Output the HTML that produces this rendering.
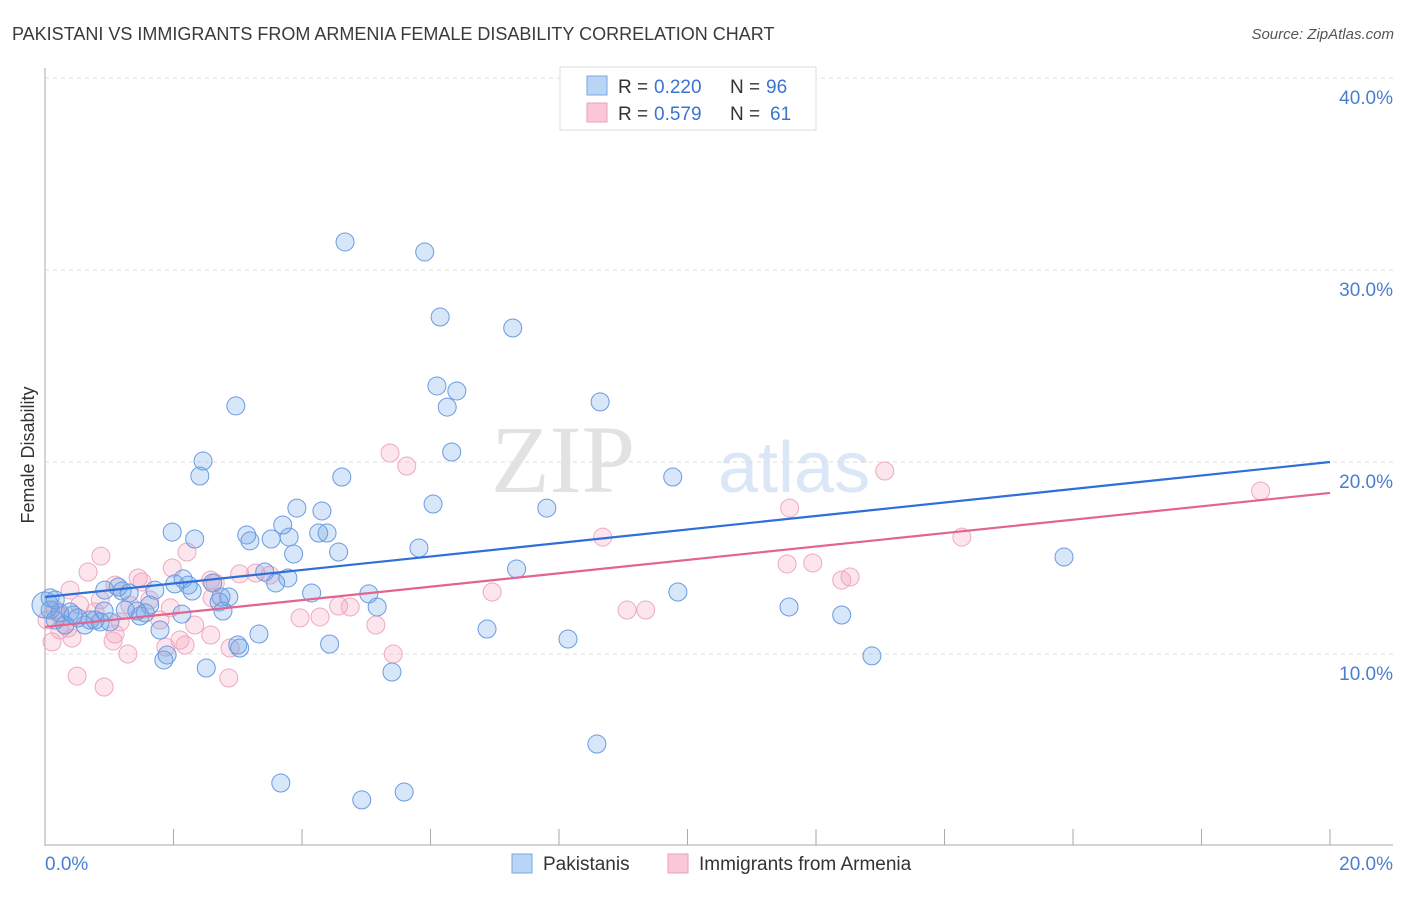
<!DOCTYPE html>
<html><head><meta charset="utf-8"><style>
body{margin:0;background:#fff;font-family:"Liberation Sans",sans-serif}
svg text{font-family:"Liberation Sans",sans-serif}
</style></head><body>
<svg id="c" width="1406" height="892">
<text x="12" y="40" font-size="18" fill="#3a3a3a">PAKISTANI VS IMMIGRANTS FROM ARMENIA FEMALE DISABILITY CORRELATION CHART</text>
<text x="1394" y="39" font-size="15" fill="#555" font-style="italic" text-anchor="end">Source: ZipAtlas.com</text>
<text x="635" y="492" font-size="96" fill="#e2e2e2" text-anchor="end" style="font-family:'Liberation Serif',serif">ZIP</text>
<text x="718" y="492" font-size="72" fill="#dbe7f6">atlas</text>
<text transform="translate(34,455) rotate(-90)" font-size="18" fill="#333" text-anchor="middle">Female Disability</text>
<g id="grid"></g><g id="pts"></g><g id="lines"></g>
<g>
<rect x="560" y="67" width="256" height="63" fill="#fff" stroke="#ddd"/>
<rect x="587" y="76" width="20" height="19" fill="#b9d4f5" stroke="#7aa7e0"/>
<rect x="587" y="103" width="20" height="19" fill="#f9c7d6" stroke="#eba0b9"/>
<text y="93" font-size="19" fill="#333"><tspan x="618">R =</tspan><tspan x="654" fill="#3b74d0">0.220</tspan><tspan x="730">N =</tspan><tspan x="766" fill="#3b74d0">96</tspan></text>
<text y="120" font-size="19" fill="#333"><tspan x="618">R =</tspan><tspan x="654" fill="#3b74d0">0.579</tspan><tspan x="730">N =</tspan><tspan x="770" fill="#3b74d0">61</tspan></text>
</g>
<g>
<rect x="512" y="854" width="20" height="19" fill="#b9d4f5" stroke="#7aa7e0"/>
<text x="543" y="870" font-size="19" fill="#333">Pakistanis</text>
<rect x="668" y="854" width="20" height="19" fill="#f9c7d6" stroke="#eba0b9"/>
<text x="699" y="870" font-size="19" fill="#333">Immigrants from Armenia</text>
</g>
</svg>
<script>
const yTicks=[10,20,30,40];
const yTickLabels=["10.0%","20.0%","30.0%","40.0%"];
const blueX=[4.67,5.91,6.15,7.28,6.10,6.41,6.26,8.64,2.97,6.33,2.46,2.41,4.62,9.77,6.04,7.81,3.92,4.31,1.98,3.14,2.33,3.19,3.52,3.80,4.26,4.39,3.70,15.86,5.82,3.87,4.57,7.34,3.42,3.78,3.59,2.61,2.15,2.23,2.02,1.71,1.14,1.20,1.31,2.74,2.86,2.71,2.29,9.85,4.15,5.04,5.17,1.63,1.25,1.43,1.56,1.48,0.92,0.39,0.78,0.62,0.23,0.08,0,0.16,0.51,2.13,2.77,11.58,12.40,1.79,3.33,6.88,8.14,3.00,4.43,1.85,2.51,5.40,12.87,8.59,3.67,4.93,5.59,0.70,1.01,0.31,0.93,3.03,1.90,0.44,0.86,0.08,0.16];
const blueY=[31.46,30.94,27.55,26.98,23.96,23.70,22.86,23.13,22.92,20.52,20.05,19.27,19.22,19.22,17.81,17.60,17.60,17.45,16.35,16.20,15.99,15.89,15.99,16.09,16.30,16.30,16.72,15.05,15.52,15.21,15.31,14.43,14.27,13.96,13.70,13.70,13.91,13.59,13.65,13.33,13.49,13.28,13.18,12.97,12.97,12.71,13.28,13.23,13.18,13.13,12.45,12.55,12.29,12.24,12.14,11.98,12.24,12.19,11.77,11.51,12.14,12.29,12.55,11.77,11.88,12.08,12.24,12.45,12.03,11.25,11.04,11.30,10.78,10.47,10.52,9.69,9.27,9.06,9.90,5.31,3.28,2.40,2.81,11.77,11.67,11.51,13.33,10.31,9.95,12.03,11.67,12.92,12.81];
const pinkX=[5.37,5.63,18.92,13.07,11.59,8.68,14.27,2.21,0.87,0.67,1.98,1.45,1.51,1.09,2.65,2.58,3.28,11.95,11.55,12.53,12.40,6.96,9.06,9.35,4.57,4.75,3.97,4.28,5.15,1.95,2.60,1.63,0.86,0.39,1.32,2.33,2.58,2.10,2.18,1.09,1.06,0.42,0.11,0.23,0.03,0.36,1.29,1.88,5.42,2.88,0.50,0.92,2.86,0.16,0.54,0.78,1.17,1.79,3.50,3.03,0.23];
const pinkY=[20.47,19.79,18.49,19.53,17.60,16.09,16.09,15.31,15.10,14.27,14.48,13.96,13.75,13.59,13.70,13.85,14.22,14.74,14.69,14.01,13.85,13.23,12.29,12.29,12.50,12.45,11.88,11.93,11.51,12.40,12.92,12.81,12.81,13.33,12.55,11.51,10.99,10.73,10.47,11.04,10.68,10.83,10.63,11.25,11.77,11.35,10.00,10.36,10.00,10.31,8.85,8.28,8.75,12.29,12.55,12.19,11.67,11.77,14.11,14.17,12.03];
const blueTrend=[12.97,20.0];
const pinkTrend=[11.41,18.39];
const NS='http://www.w3.org/2000/svg';
const X=v=>45+v/20*1285, Y=v=>846-v*19.2;
function mk(t,a,p){const e=document.createElementNS(NS,t);for(const k in a)e.setAttribute(k,a[k]);p.appendChild(e);return e;}
const g=document.getElementById('grid');
yTicks.forEach((t,i)=>{
 const l=mk('line',{x1:45,x2:1393,y1:Y(t),y2:Y(t),stroke:'#ddd','stroke-dasharray':'4,4'},g);
 
 
 const tx=mk('text',{x:1393,y:Y(t)+26,'font-size':19,fill:'#4a7fd0','text-anchor':'end'},g);
 tx.textContent=yTickLabels[i];
 
 
});
let ax=mk('line',{x1:45,x2:45,y1:68,y2:846,stroke:'#aaa'},g);


ax=mk('line',{x1:45,x2:1393,y1:845,y2:845,stroke:'#aaa'},g);


for(let i=0;i<=10;i++){const tk=mk('line',{x1:X(i*2),x2:X(i*2),y1:829,y2:845,stroke:'#aaa'},g);
 
 }
let t0=mk('text',{x:45,y:870,'font-size':19,fill:'#4a7fd0'},g);t0.textContent='0.0%';


t0=mk('text',{x:1393,y:870,'font-size':19,fill:'#4a7fd0','text-anchor':'end'},g);t0.textContent='20.0%';


const p=document.getElementById('pts');
pinkX.forEach((x,i)=>{const c=mk('circle',{cx:X(x),cy:Y(pinkY[i]),r:9,fill:'rgba(244,160,188,0.28)',stroke:'#efa9c0','stroke-width':1},p);
 
 });
blueX.forEach((x,i)=>{const c=mk('circle',{cx:X(x),cy:Y(blueY[i]),r:(i==62?13:9),fill:'rgba(110,165,235,0.28)',stroke:'#6a9be0','stroke-width':1},p);
 
 });
const L=document.getElementById('lines');
let tl=mk('line',{x1:X(0),x2:X(20),y1:Y(blueTrend[0]),y2:Y(blueTrend[1]),stroke:'#2f6fd6','stroke-width':2.2},L);


tl=mk('line',{x1:X(0),x2:X(20),y1:Y(pinkTrend[0]),y2:Y(pinkTrend[1]),stroke:'#e2648f','stroke-width':2.2},L);


</script>
</body></html>
